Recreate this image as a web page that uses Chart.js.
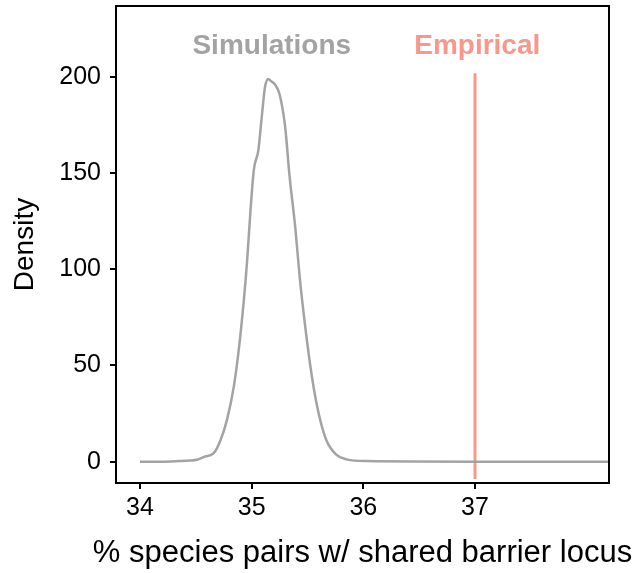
<!DOCTYPE html>
<html>
<head>
<meta charset="utf-8">
<script src="https://cdn.jsdelivr.net/npm/chart.js@4"></script>
<style>
  html, body { margin: 0; padding: 0; background: #fff; }
  #wrap { width: 638px; height: 573px; }
</style>
</head>
<body>
<div id="wrap"><canvas id="densityChart" width="638" height="573"></canvas></div>
<script>
// simulated density curve
const simX = [34.0, 34.2, 34.35, 34.45, 34.51, 34.58, 34.66, 34.72, 34.78, 34.84, 34.88, 34.93, 34.96, 34.99,
  35.02, 35.06, 35.09, 35.12, 35.15, 35.17, 35.21, 35.25, 35.30, 35.34, 35.39, 35.43, 35.48, 35.54,
  35.60, 35.67, 35.76, 35.85, 36.03, 37.0, 38.2];
const simY = [0, 0, 0.3, 0.6, 1.0, 2.6, 4.4, 11, 22, 39, 56, 84, 105, 131,
  152, 162, 179, 195, 199, 198, 196, 191, 174, 148, 122, 96, 70, 44,
  25, 11, 3.5, 1.2, 0.3, 0, 0];
const empiricalX = 37;
const empiricalSpan = [-9, 202];

const xTicks = [34, 35, 36, 37];
const yTicks = [0, 50, 100, 150, 200];
const xTitle = '% species pairs w/ shared barrier locus';
const labels = [
  { text: 'Simulations', x: 35.18, y: 216, color: '#a3a3a3' },
  { text: 'Empirical', x: 37.02, y: 216, color: '#f8978a' }
];

const grey = '#a3a3a3';
const salmon = '#f8978a';
const font = "'Liberation Sans', Arial, sans-serif";

const framePlugin = {
  id: 'frame',
  afterDraw(chart) {
    const { ctx, chartArea: a, scales } = chart;
    ctx.save();
    ctx.strokeStyle = '#000';
    ctx.lineWidth = 2;
    ctx.strokeRect(a.left, a.top, a.right - a.left, a.bottom - a.top);
    ctx.textAlign = 'center';
    ctx.textBaseline = 'middle';
    ctx.font = 'bold 28px ' + font;
    labels.forEach(l => {
      ctx.fillStyle = l.color;
      ctx.fillText(l.text, scales.x.getPixelForValue(l.x), scales.y.getPixelForValue(l.y));
    });
    // x title drawn by hand so it is not squeezed to the axis width
    ctx.fillStyle = '#000';
    ctx.font = '31px ' + font;
    ctx.fillText(xTitle, (a.left + a.right) / 2, scales.x.bottom - 20);
    ctx.restore();
  }
};

new Chart(document.getElementById('densityChart').getContext('2d'), {
  type: 'scatter',
  data: {
    datasets: [
      {
        label: 'Simulations',
        data: simX.map((x, i) => ({ x: x, y: simY[i] })),
        showLine: true,
        borderColor: grey,
        borderWidth: 2.5,
        pointRadius: 0,
        cubicInterpolationMode: 'monotone'
      },
      {
        label: 'Empirical',
        data: empiricalSpan.map(y => ({ x: empiricalX, y: y })),
        showLine: true,
        borderColor: salmon,
        borderWidth: 3,
        pointRadius: 0
      }
    ]
  },
  options: {
    responsive: false,
    animation: false,
    layout: { padding: { top: 6, right: 29, left: 0, bottom: 0 } },
    plugins: { legend: { display: false }, tooltip: { enabled: false } },
    scales: {
      x: {
        type: 'linear',
        min: 33.785,
        max: 38.2,
        afterBuildTicks: s => { s.ticks = xTicks.map(v => ({ value: v })); },
        afterFit: s => { s.height = 90; s.paddingLeft = 0; s.paddingRight = 0; },
        grid: { drawOnChartArea: false, drawTicks: true, tickLength: 6, color: '#000', lineWidth: 2 },
        border: { display: false },
        ticks: { color: '#000', font: { family: font, size: 25 }, padding: 4, maxRotation: 0 },
        title: { display: false }
      },
      y: {
        min: -11.1,
        max: 236.9,
        afterBuildTicks: s => { s.ticks = yTicks.map(v => ({ value: v })); },
        afterFit: s => { s.width = 116; s.paddingTop = 0; s.paddingBottom = 0; },
        grid: { drawOnChartArea: false, drawTicks: true, tickLength: 6, color: '#000', lineWidth: 2 },
        border: { display: false },
        ticks: { color: '#000', font: { family: font, size: 25 }, padding: 9 },
        title: { display: true, text: 'Density', color: '#000',
          font: { family: font, size: 28 }, padding: { top: 8, bottom: 0 } }
      }
    }
  },
  plugins: [framePlugin]
});
</script>
</body>
</html>
